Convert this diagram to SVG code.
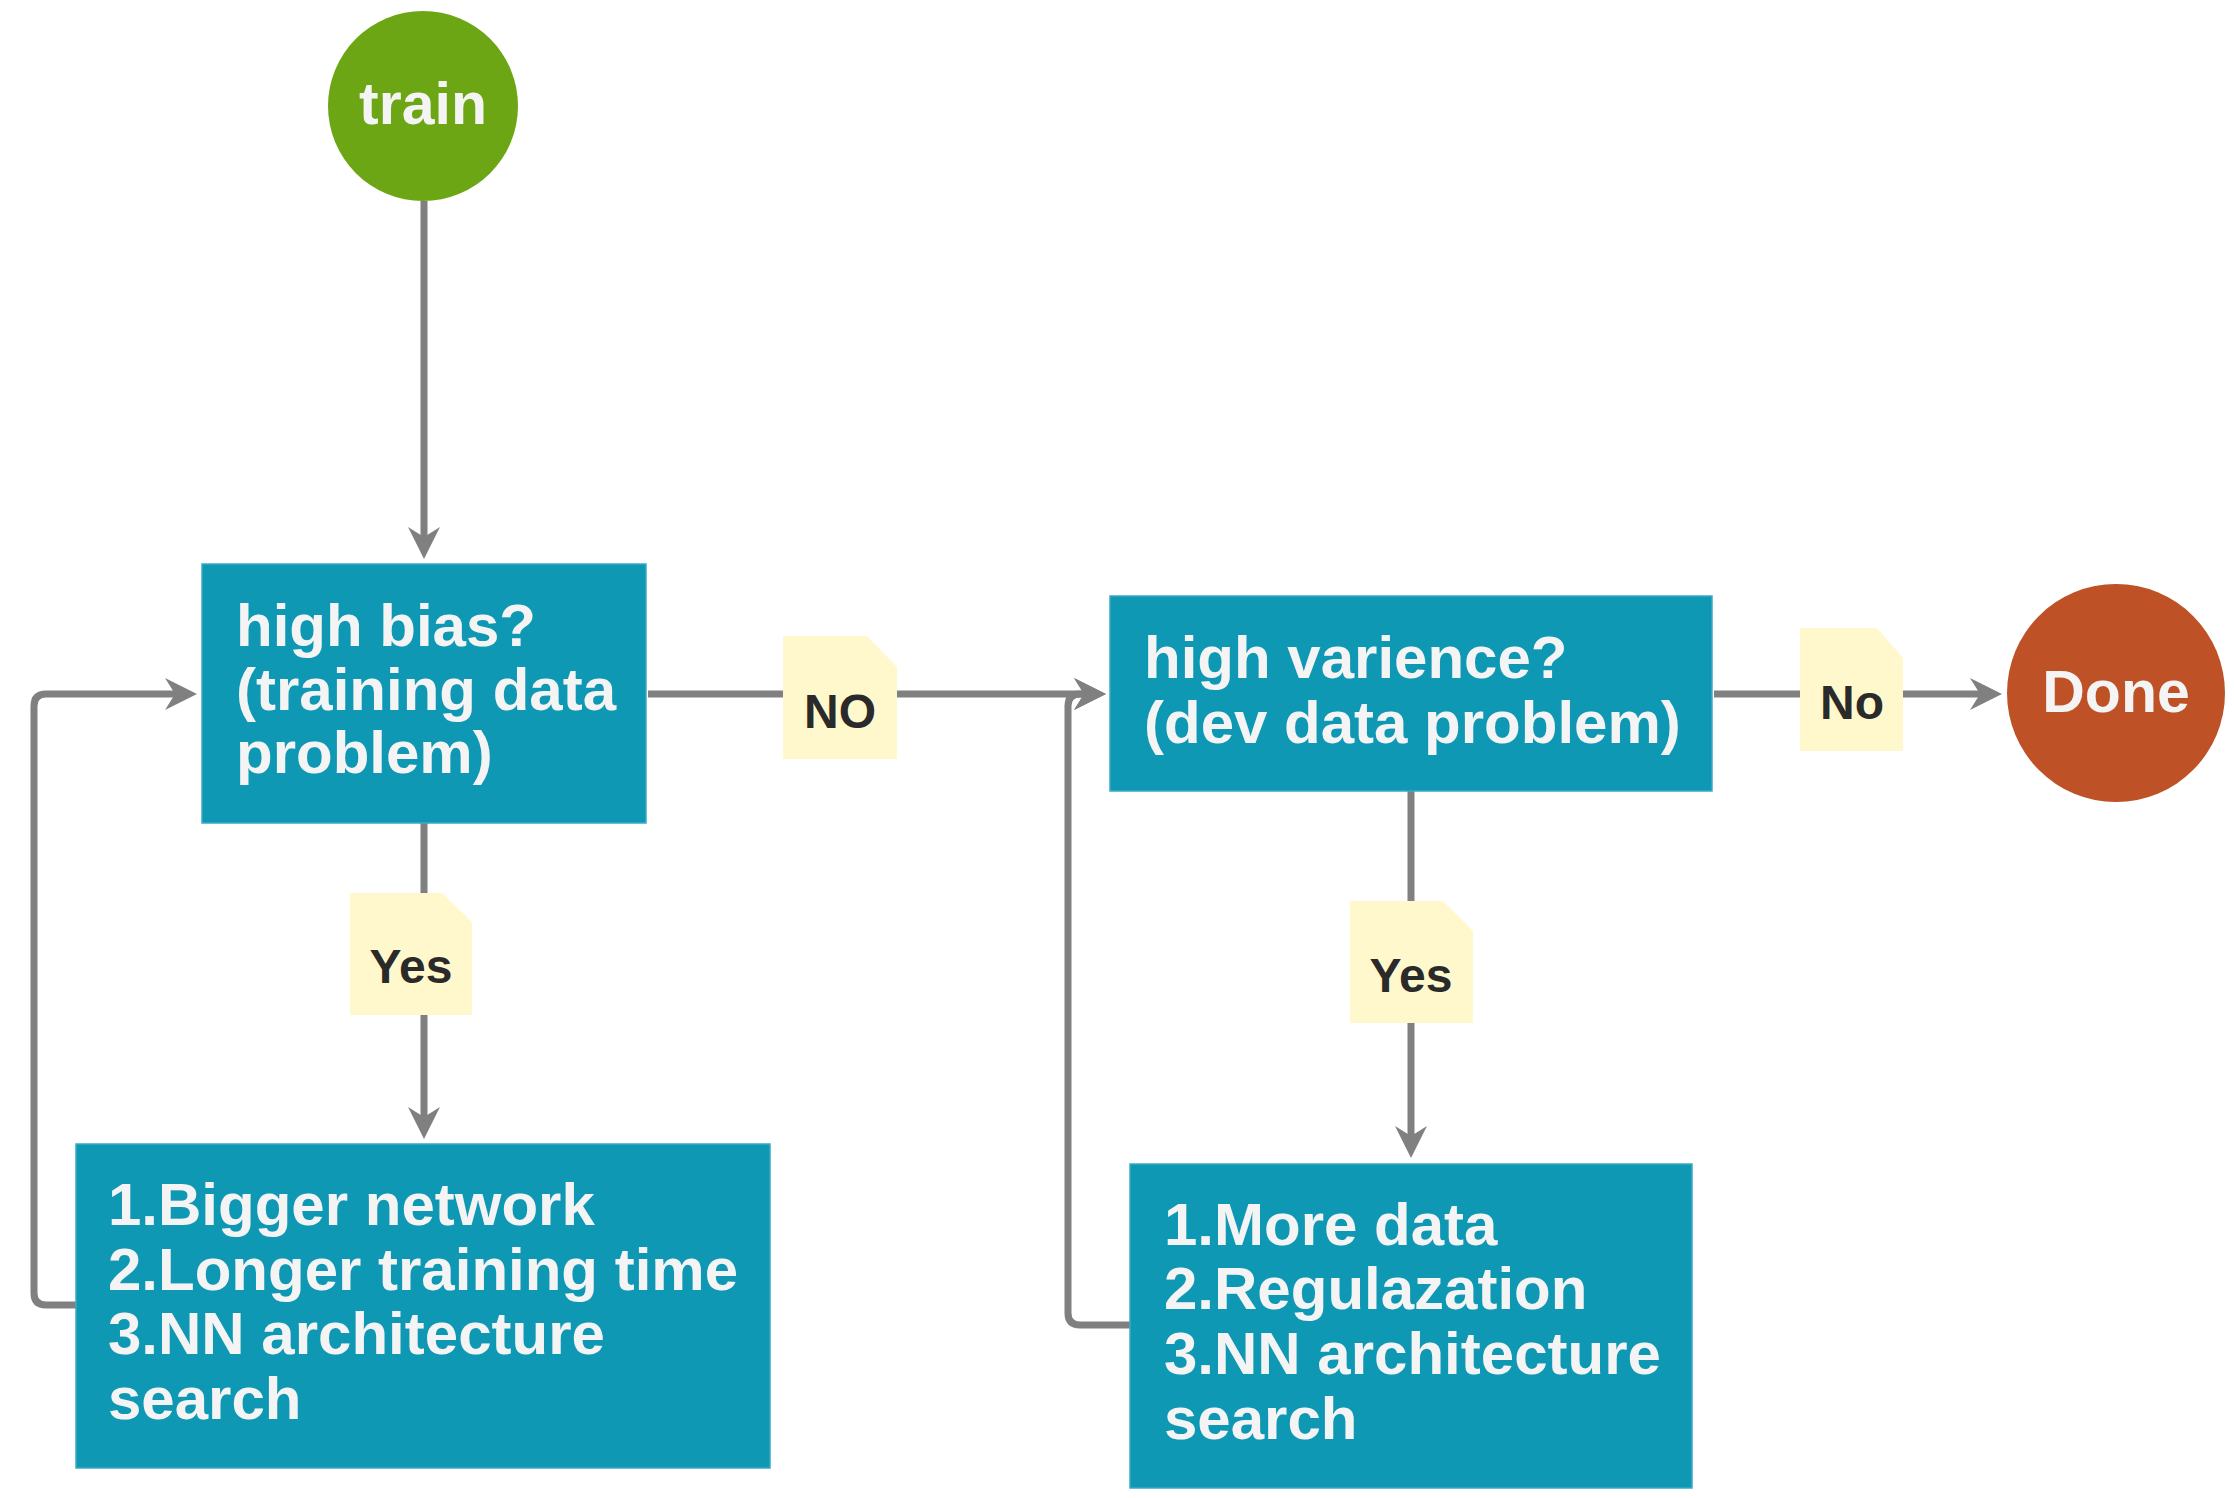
<svg xmlns="http://www.w3.org/2000/svg" width="2234" height="1498" viewBox="0 0 2234 1498">
<defs>
<style>
.box{fill:#0f98b4;stroke:#3aabc6;stroke-width:1.5}
.bt{font-family:"Liberation Sans",Arial,sans-serif;font-weight:bold;font-size:60px;fill:#f4f4f4}
.ct{font-family:"Liberation Sans",Arial,sans-serif;font-weight:bold;font-size:59px;fill:#f4f4f4;text-anchor:middle}
.lab{fill:#fff8cc}
.lt{font-family:"Liberation Sans",Arial,sans-serif;font-weight:bold;font-size:48px;fill:#2a2a2a;text-anchor:middle}
.edge{fill:none;stroke:#808080;stroke-width:7}
</style>
<marker id="arr" markerUnits="userSpaceOnUse" markerWidth="34" markerHeight="34" refX="10" refY="16" orient="auto" overflow="visible">
<path d="M0,0 L32,16 L0,32 L10,16 Z" fill="#808080"/>
</marker>
</defs>
<rect width="2234" height="1498" fill="#ffffff"/>
<g id="connectors">
<path class="edge" d="M424,201 L424,537" marker-end="url(#arr)"/>
<path class="edge" d="M648,694 L1084,694" marker-end="url(#arr)"/>
<path class="edge" d="M424,823 L424,1117" marker-end="url(#arr)"/>
<path class="edge" d="M1714,694 L1980,694" marker-end="url(#arr)"/>
<path class="edge" d="M1411,791 L1411,1136" marker-end="url(#arr)"/>
<path class="edge" d="M76,1305 L46,1305 Q34,1305 34,1293 L34,706 Q34,694 46,694 L175,694" marker-end="url(#arr)"/>
<path class="edge" d="M1130,1325 L1080,1325 Q1068,1325 1068,1313 L1068,706 Q1068,694 1080,694 L1084,694" marker-end="url(#arr)"/>
</g>
<g id="train">
<circle cx="423" cy="106" r="95" fill="#6ca615"/>
<text class="ct" x="423" y="124">train</text>
</g>
<g id="done">
<circle cx="2116" cy="693" r="109" fill="#bf5127"/>
<text class="ct" x="2116" y="712">Done</text>
</g>
<g id="highBias">
<rect class="box" x="202" y="564" width="444" height="259"/>
<text class="bt" x="236" y="646">high bias?</text>
<text class="bt" x="236" y="710">(training data</text>
<text class="bt" x="236" y="773">problem)</text>
</g>
<g id="highVariance">
<rect class="box" x="1110" y="596" width="602" height="195"/>
<text class="bt" x="1144" y="678">high varience?</text>
<text class="bt" x="1144" y="743">(dev data problem)</text>
</g>
<g id="biasFix">
<rect class="box" x="76" y="1144" width="694" height="324"/>
<text class="bt" x="108" y="1225">1.Bigger network</text>
<text class="bt" x="108" y="1290">2.Longer training time</text>
<text class="bt" x="108" y="1354">3.NN architecture</text>
<text class="bt" x="108" y="1419">search</text>
</g>
<g id="varianceFix">
<rect class="box" x="1130" y="1164" width="562" height="324"/>
<text class="bt" x="1164" y="1245">1.More data</text>
<text class="bt" x="1164" y="1309">2.Regulazation</text>
<text class="bt" x="1164" y="1374">3.NN architecture</text>
<text class="bt" x="1164" y="1439">search</text>
</g>
<g id="labelNO">
<path class="lab" d="M783,636 H867 L897,667 V759 H783 Z"/>
<text class="lt" x="840" y="728">NO</text>
</g>
<g id="labelYes1">
<path class="lab" d="M350,893 H442 L472,922 V1015 H350 Z"/>
<text class="lt" x="411" y="983">Yes</text>
</g>
<g id="labelYes2">
<path class="lab" d="M1350,901 H1443 L1473,931 V1023 H1350 Z"/>
<text class="lt" x="1411" y="992">Yes</text>
</g>
<g id="labelNo">
<path class="lab" d="M1800,628 H1877 L1903,658 V751 H1800 Z"/>
<text class="lt" x="1852" y="719">No</text>
</g>
</svg>
